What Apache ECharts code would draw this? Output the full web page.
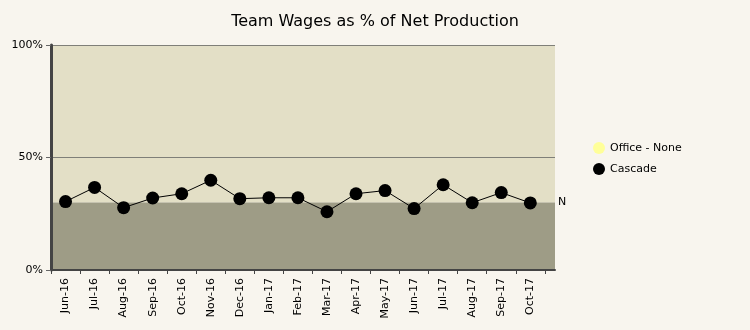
<!DOCTYPE html>
<html><head><meta charset="utf-8">
<script src="https://cdn.jsdelivr.net/npm/echarts@6/dist/echarts.min.js"></script>
<style>html,body{margin:0;padding:0;background:#f8f5ee;}#c{width:750px;height:330px;}</style>
</head><body><div id="c"></div>
<script>
const categories = ['Jun-16','Jul-16','Aug-16','Sep-16','Oct-16','Nov-16','Dec-16','Jan-17','Feb-17','Mar-17','Apr-17','May-17','Jun-17','Jul-17','Aug-17','Sep-17','Oct-17'];
const cascade = [30.4,36.7,27.7,32.0,33.9,39.9,31.7,32.1,32.1,25.9,33.9,35.3,27.3,37.9,29.9,34.4,29.8];
const officeNone = [];
const threshold = 30;
const yTicks = [0,50,100];

const font = 'DejaVu Sans';
const chart = echarts.init(document.getElementById('c'), null, {renderer:'canvas'});
const pts = cascade.map((v,i)=>[i+0.5, v]);
const tickVals = categories.map((_,i)=>i).concat([categories.length]);
const labelVals = categories.map((_,i)=>i+0.5);
chart.setOption({
  backgroundColor:'#f8f5ee',
  animation:false,
  title:{text:'Team Wages as % of Net Production',left:'center',top:9,textStyle:{fontFamily:font,fontSize:16,fontWeight:'normal',color:'#000'}},
  legend:{orient:'vertical',left:588,top:137,itemGap:9,itemWidth:12,itemHeight:12,textStyle:{fontFamily:font,fontSize:11,color:'#000'},
    data:[{name:'Office - None',icon:'circle',itemStyle:{color:'#ffff99'}},{name:'Cascade',icon:'circle',itemStyle:{color:'#000'}}]},
  grid:{left:51,right:195,top:45,bottom:60,containLabel:false},
  xAxis:{type:'value',min:0,max:17.35,z:3,
    axisLine:{show:true,onZero:false,lineStyle:{color:'#444',width:2}},
    axisTick:{show:true,customValues:tickVals,length:4,lineStyle:{color:'#444'}},
    axisLabel:{customValues:labelVals,rotate:90,fontFamily:font,fontSize:11,color:'#000',margin:8,
      formatter:v=>categories[Math.round(v-0.5)]||''},
    splitLine:{show:false}},
  yAxis:{type:'value',min:0,max:100,interval:50,z:3,
    axisLine:{show:true,lineStyle:{color:'#444',width:3}},
    axisTick:{show:true,length:5,lineStyle:{color:'#666'}},
    axisLabel:{fontFamily:font,fontSize:11,color:'#000',margin:8,formatter:v=>yTicks.includes(v)?v+'%':''},
    splitLine:{show:true,lineStyle:{color:'#7f7f78',width:1}}},
  series:[
    {name:'bands',type:'line',data:[],z:-1,silent:true,
      markArea:{silent:true,data:[
        [{yAxis:threshold,itemStyle:{color:'#e3dfc6'}},{yAxis:100}],
        [{yAxis:0,itemStyle:{color:'#9e9c86'}},{yAxis:threshold}]
      ]},
      markLine:{silent:true,symbol:'none',data:[{yAxis:threshold}],lineStyle:{color:'rgba(0,0,0,0)',width:1},
        label:{show:true,position:'end',formatter:'N',fontFamily:font,fontSize:11,color:'#000',distance:3}}},
    {name:'Office - None',type:'line',data:officeNone,symbol:'circle',itemStyle:{color:'#ffff99'}},
    {name:'Cascade',type:'line',data:pts,symbol:'circle',symbolSize:13,z:5,
      itemStyle:{color:'#000'},lineStyle:{color:'#000',width:1}}
  ]
});
</script></body></html>
